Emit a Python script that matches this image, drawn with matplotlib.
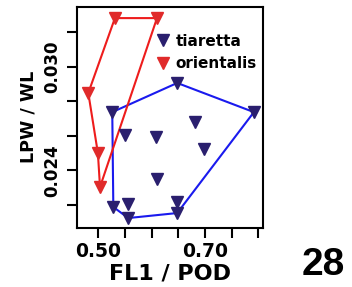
import matplotlib
matplotlib.use('Agg')
import matplotlib.pyplot as plt

# tiaretta (blue) points
tia_x = [0.526, 0.648, 0.792, 0.681, 0.550, 0.608, 0.698, 0.610, 0.528, 0.556, 0.648, 0.556, 0.648]
tia_y = [0.02737, 0.02906, 0.02737, 0.02679, 0.02604, 0.02592, 0.02523, 0.02349, 0.02187, 0.02204, 0.02216, 0.02123, 0.02152]
tia_hull = [0, 1, 2, 12, 11, 8, 0]

# orientalis (red) points
ori_x = [0.531, 0.610, 0.481, 0.499, 0.503]
ori_y = [0.03282, 0.03282, 0.02848, 0.02500, 0.02303]
ori_hull = [0, 1, 4, 3, 2, 0]

xticks = [0.50, 0.55, 0.60, 0.65, 0.70, 0.75, 0.80]
xticklabels = ['0.50', '', '', '', '0.70', '', '']
yticks = [0.022, 0.024, 0.026, 0.028, 0.030, 0.032]
yticklabels = ['', '0.024', '', '', '0.030', '']

fig = plt.figure(figsize=(3.52, 2.87), dpi=100)
ax = fig.add_axes([0.220, 0.2066, 0.527, 0.770])

navy = '#2a1f6e'
red_mk = '#e02a2a'

ax.plot([tia_x[i] for i in tia_hull], [tia_y[i] for i in tia_hull], color='#1a1aee', lw=1.5, zorder=2)
ax.plot([ori_x[i] for i in ori_hull], [ori_y[i] for i in ori_hull], color='#ee1c1c', lw=1.5, zorder=2)
ax.plot(tia_x, tia_y, 'v', color=navy, ms=8, ls='none', label='tiaretta', zorder=3)
ax.plot(ori_x, ori_y, 'v', color=red_mk, ms=8, ls='none', label='orientalis', zorder=3)

ax.set_xlim(0.4606, 0.809)
ax.set_ylim(0.02067, 0.03348)
ax.set_xticks(xticks)
ax.set_xticklabels(xticklabels, fontsize=13.5, fontweight='bold')
ax.set_yticks(yticks)
ax.set_yticklabels(yticklabels, fontsize=12, fontweight='bold', rotation=90, va='center')
ax.tick_params(axis='both', direction='out', length=7, width=1.5)
ax.tick_params(axis='x', pad=3)
ax.tick_params(axis='y', pad=5)
for s in ax.spines.values():
    s.set_linewidth(1.5)

ax.set_xlabel('FL1 / POD', fontsize=16, fontweight='bold', labelpad=2)
ax.set_ylabel('LPW / WL', fontsize=12.6, fontweight='bold', labelpad=4)

ax.legend(loc='upper left', bbox_to_anchor=(0.38, 0.905), frameon=False,
          prop={'size': 11, 'weight': 'bold'}, handletextpad=0.2,
          labelspacing=0.5, borderaxespad=0, handlelength=1.2)

fig.text(323.5 / 352, 12 / 287, '28', fontsize=28, fontweight='bold',
         family='Liberation Sans', ha='center', va='baseline')

fig.savefig('out.png', dpi=100)
